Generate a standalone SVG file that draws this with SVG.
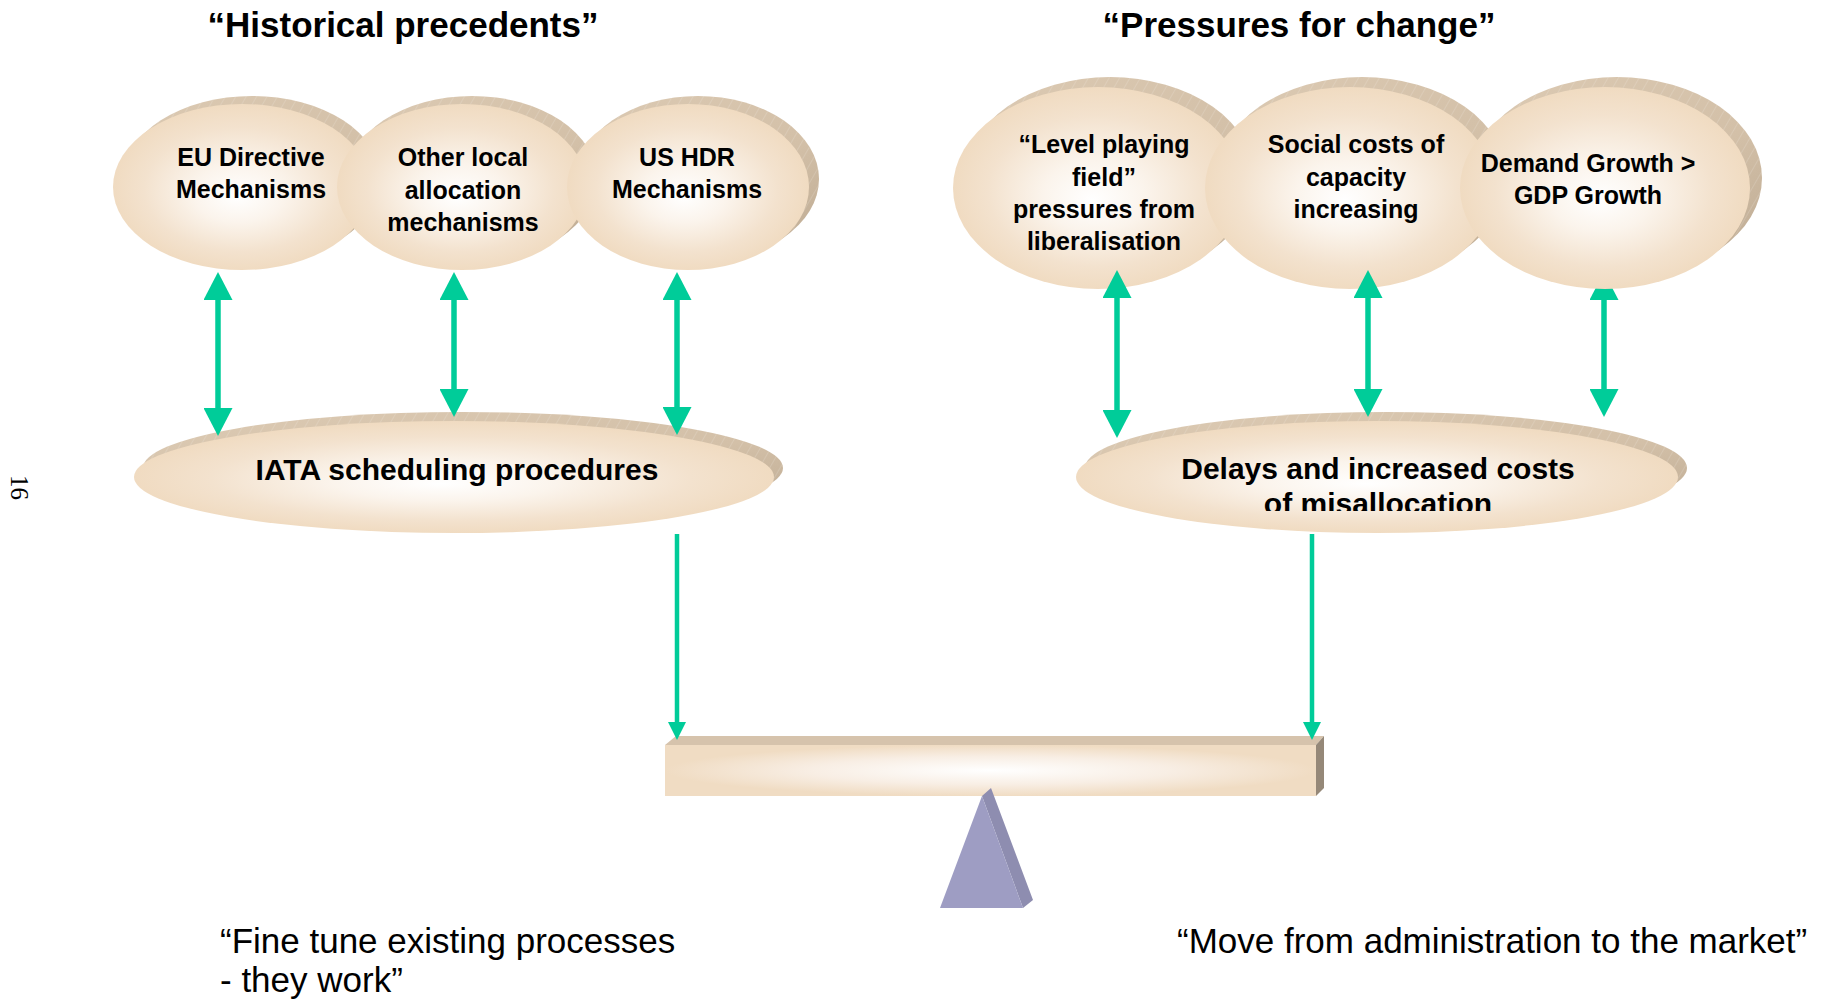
<svg xmlns="http://www.w3.org/2000/svg" width="1825" height="1002" viewBox="0 0 1825 1002">
  <style>
    .hd { font-family: "Liberation Sans", Arial, sans-serif; font-weight: bold; font-size: 35px; text-anchor: middle; fill: #000; }
    .nt { font-family: "Liberation Sans", Arial, sans-serif; font-weight: bold; font-size: 25px; text-anchor: middle; fill: #000; }
    .bt { font-family: "Liberation Sans", Arial, sans-serif; font-weight: bold; font-size: 30px; text-anchor: middle; fill: #000; }
    .qt { font-family: "Liberation Sans", Arial, sans-serif; font-size: 35px; fill: #000; }
    .pg { font-family: "Liberation Serif", "Times New Roman", serif; font-size: 25px; fill: #000; }
    .rim { fill: url(#rimGrad); }
    .hatch { fill: url(#hatch); }
    .face { fill: url(#faceGrad); }
    .arr2 { stroke: #00CC99; stroke-width: 5.5; fill: none; marker-start: url(#headL); marker-end: url(#headL); }
    .arr1 { stroke: #00CC99; stroke-width: 4.5; fill: none; marker-end: url(#headS); }
  </style>
  <defs>
    <radialGradient id="faceGrad" cx="0.5" cy="0.5" r="0.5" fx="0.48" fy="0.56">
      <stop offset="0" stop-color="#FFFFFF"/>
      <stop offset="0.35" stop-color="#FBF4EC"/>
      <stop offset="0.75" stop-color="#F3E2CE"/>
      <stop offset="1" stop-color="#F0DBC1"/>
    </radialGradient>
    <linearGradient id="rimGrad" x1="0" y1="0" x2="1" y2="1">
      <stop offset="0" stop-color="#DCCAB3"/>
      <stop offset="0.6" stop-color="#D3C0A8"/>
      <stop offset="1" stop-color="#BBA890"/>
    </linearGradient>
    <pattern id="hatch" patternUnits="userSpaceOnUse" width="9" height="9" patternTransform="rotate(30)">
      <line x1="0" y1="0" x2="0" y2="9" stroke="#FFFFFF" stroke-opacity="0.28" stroke-width="1"/>
    </pattern>
    <radialGradient id="beamGrad" cx="0.5" cy="0.5" r="0.5">
      <stop offset="0" stop-color="#FFFFFF"/>
      <stop offset="0.55" stop-color="#F8EEE4"/>
      <stop offset="1" stop-color="#F0DCC3"/>
    </radialGradient>
    <marker id="headL" markerUnits="userSpaceOnUse" viewBox="0 0 28 29" refX="8" refY="14.5" markerWidth="28" markerHeight="29" orient="auto-start-reverse">
      <path d="M0,0 L28,14.5 L0,29 z" fill="#00CC99"/>
    </marker>
    <marker id="headS" markerUnits="userSpaceOnUse" viewBox="0 0 18 18" refX="6" refY="9" markerWidth="18" markerHeight="18" orient="auto">
      <path d="M0,0 L18,9 L0,18 z" fill="#00CC99"/>
    </marker>
    <clipPath id="delaysClip">
      <rect x="1000" y="380" width="800" height="131"/>
    </clipPath>
  </defs>

  <!-- page number -->
  <text class="pg" transform="translate(11,475) rotate(90)">16</text>

  <!-- column headings -->
  <text class="hd" x="403" y="37">“Historical precedents”</text>
  <text class="hd" x="1299" y="37">“Pressures for change”</text>

  <!-- lower discs -->
  <g id="iata">
    <ellipse class="rim" cx="463" cy="468" rx="320" ry="56"/>
    <ellipse class="hatch" cx="463" cy="468" rx="320" ry="56"/>
    <ellipse class="face" cx="454" cy="477" rx="320" ry="56"/>
    <text class="bt" x="457" y="480">IATA scheduling procedures</text>
  </g>
  <g id="delays">
    <ellipse class="rim" cx="1386" cy="468" rx="301" ry="56"/>
    <ellipse class="hatch" cx="1386" cy="468" rx="301" ry="56"/>
    <ellipse class="face" cx="1377" cy="477" rx="301" ry="56"/>
    <g clip-path="url(#delaysClip)">
      <text class="bt" x="1378" y="479">Delays and increased costs</text>
      <text class="bt" x="1378" y="514">of misallocation</text>
    </g>
  </g>

  <!-- balance beam and fulcrum -->
  <g id="balance">
    <polygon points="665,745 676,736 1324,736 1316,745" fill="#D6C3AC"/>
    <polygon points="1316,745 1324,736 1324,788 1316,796" fill="#958878"/>
    <rect x="665" y="745" width="651" height="51" fill="url(#beamGrad)"/>
    <polygon points="982,796 991,788 1033,900 1023,908" fill="#8E8DB0"/>
    <polygon points="982,796 940,908 1023,908" fill="#9E9DC3"/>
  </g>

  <!-- upper discs: historical precedents -->
  <g id="eu">
    <ellipse class="rim" cx="252" cy="179" rx="129" ry="83"/>
    <ellipse class="hatch" cx="252" cy="179" rx="129" ry="83"/>
    <ellipse class="face" cx="242" cy="187" rx="129" ry="83"/>
    <text class="nt" x="251" y="166">EU Directive</text>
    <text class="nt" x="251" y="198">Mechanisms</text>
  </g>
  <g id="other">
    <ellipse class="rim" cx="472" cy="179" rx="125" ry="83"/>
    <ellipse class="hatch" cx="472" cy="179" rx="125" ry="83"/>
    <ellipse class="face" cx="462" cy="187" rx="125" ry="83"/>
    <text class="nt" x="463" y="166">Other local</text>
    <text class="nt" x="463" y="199">allocation</text>
    <text class="nt" x="463" y="231">mechanisms</text>
  </g>
  <g id="us">
    <ellipse class="rim" cx="698" cy="179" rx="121" ry="83"/>
    <ellipse class="hatch" cx="698" cy="179" rx="121" ry="83"/>
    <ellipse class="face" cx="688" cy="187" rx="121" ry="83"/>
    <text class="nt" x="687" y="166">US HDR</text>
    <text class="nt" x="687" y="198">Mechanisms</text>
  </g>

  <!-- upper discs: pressures for change -->
  <g id="level">
    <ellipse class="rim" cx="1110" cy="178" rx="145" ry="101"/>
    <ellipse class="hatch" cx="1110" cy="178" rx="145" ry="101"/>
    <ellipse class="face" cx="1098" cy="188" rx="145" ry="101"/>
    <text class="nt" x="1104" y="153">“Level playing</text>
    <text class="nt" x="1104" y="186">field”</text>
    <text class="nt" x="1104" y="218">pressures from</text>
    <text class="nt" x="1104" y="250">liberalisation</text>
  </g>
  <g id="social">
    <ellipse class="rim" cx="1362" cy="178" rx="145" ry="101"/>
    <ellipse class="hatch" cx="1362" cy="178" rx="145" ry="101"/>
    <ellipse class="face" cx="1350" cy="188" rx="145" ry="101"/>
    <text class="nt" x="1356" y="153">Social costs of</text>
    <text class="nt" x="1356" y="186">capacity</text>
    <text class="nt" x="1356" y="218">increasing</text>
  </g>

  <!-- connectors -->
  <g id="connectors">
    <path class="arr2" d="M218,292 V416"/>
    <path class="arr2" d="M454,292 V397"/>
    <path class="arr2" d="M677,292 V415"/>
    <path class="arr2" d="M1117,290 V418"/>
    <path class="arr2" d="M1368,290 V397"/>
    <path class="arr2" d="M1604,292 V397"/>
    <path class="arr1" d="M677,534 V728"/>
    <path class="arr1" d="M1312,534 V728"/>
  </g>

  <g id="demand">
    <ellipse class="rim" cx="1617" cy="178" rx="145" ry="101"/>
    <ellipse class="hatch" cx="1617" cy="178" rx="145" ry="101"/>
    <ellipse class="face" cx="1605" cy="188" rx="145" ry="101"/>
    <text class="nt" x="1588" y="172">Demand Growth &gt;</text>
    <text class="nt" x="1588" y="204">GDP Growth</text>
  </g>

  <!-- closing statements -->
  <text class="qt" x="220" y="953">“Fine tune existing processes</text>
  <text class="qt" x="220" y="992">- they work”</text>
  <text class="qt" x="1177" y="953">“Move from administration to the market”</text>
</svg>
